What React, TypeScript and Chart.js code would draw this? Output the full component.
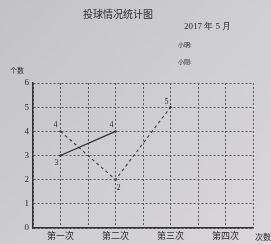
import React, { useEffect, useRef } from "react";
import { Chart, registerables } from "chart.js";

Chart.register(...registerables);

const title = "投球情况统计图";
const dateText = "2017 年 5 月";
const nameLabels = ["小明:", "小刚:"];
const yAxisTitle = "个数";
const xAxisTitle = "次数";
const categories = ["第一次", "第二次", "第三次", "第四次"];
const seriesSolid: (number | null)[] = [3, 4, null, null];
const seriesDashed: (number | null)[] = [4, 2, 5, null];
const yTicks = [0, 1, 2, 3, 4, 5, 6];

const toPoints = (vals: (number | null)[]) =>
  vals
    .map((v, i) => (v === null ? null : { x: i * 2 + 1, y: v }))
    .filter((p) => p !== null) as { x: number; y: number }[];

const CJK = '"Noto Sans CJK SC", "Noto Sans", sans-serif';
const SERIF = '"Liberation Serif", "DejaVu Serif", serif';

const labelOffsets: Record<number, [number, number][]> = {
  0: [
    [-4, 7],
    [-4, -6],
  ],
  1: [
    [-5, -6],
    [3, 8],
    [-4, -5],
  ],
};

const paperPlugin = {
  id: "paper",
  beforeDraw(chart: any) {
    const { ctx, width, height } = chart;
    ctx.save();
    const g = ctx.createLinearGradient(0, 0, width, height);
    g.addColorStop(0, "#c3c3c6");
    g.addColorStop(1, "#d9d7d9");
    ctx.fillStyle = g;
    ctx.fillRect(0, 0, width, height);
    ctx.restore();
  },
  afterDraw(chart: any) {
    const { ctx } = chart;
    ctx.save();
    ctx.fillStyle = "#2a2a2a";
    ctx.textBaseline = "middle";
    ctx.textAlign = "center";
    ctx.font = `10px ${CJK}`;
    ctx.fillText(title, 118, 14);
    ctx.textAlign = "left";
    ctx.font = `9px ${SERIF}`;
    ctx.fillText(dateText, 184, 27);
    ctx.font = `6px ${CJK}`;
    ctx.fillText(nameLabels[0], 178, 45);
    ctx.fillText(nameLabels[1], 178, 62);
    ctx.font = `7px ${CJK}`;
    ctx.fillText(yAxisTitle, 10, 70);
    ctx.font = `8px ${CJK}`;
    ctx.fillText(xAxisTitle, 255, 237);

    // point value labels
    ctx.font = `8px ${SERIF}`;
    ctx.textAlign = "center";
    chart.data.datasets.forEach((ds: any, di: number) => {
      const meta = chart.getDatasetMeta(di);
      meta.data.forEach((el: any, i: number) => {
        const off = labelOffsets[di][i] || [0, -6];
        ctx.fillText(String(ds.data[i].y), el.x + off[0], el.y + off[1]);
      });
    });
    ctx.restore();
  },
};

export default function App() {
  const ref = useRef<HTMLCanvasElement>(null);
  useEffect(() => {
    document.body.style.margin = "0";
    const chart = new Chart(ref.current!, {
      type: "line",
      data: {
        datasets: [
          {
            label: "小明",
            data: toPoints(seriesSolid),
            borderColor: "#2e2e30",
            borderWidth: 1.3,
            pointRadius: 1.2,
            pointBackgroundColor: "#2e2e30",
            pointBorderWidth: 0,
          },
          {
            label: "小刚",
            data: toPoints(seriesDashed),
            borderColor: "#3a3a3e",
            borderWidth: 1.1,
            borderDash: [3, 3],
            pointRadius: 1.2,
            pointBackgroundColor: "#3a3a3e",
            pointBorderWidth: 0,
          },
        ],
      },
      options: {
        animation: false,
        responsive: false,
        maintainAspectRatio: false,
        layout: { padding: { top: 83, right: 18, left: 0, bottom: 0 } },
        plugins: {
          legend: { display: false },
          tooltip: { enabled: false },
          title: { display: false },
        },
        scales: {
          x: {
            type: "linear",
            min: 0,
            max: categories.length * 2,
            afterFit: (s: any) => {
              s.height = 16;
            },
            ticks: {
              stepSize: 1,
              autoSkip: false,
              maxRotation: 0,
              padding: 2,
              color: "#2a2a2a",
              font: { family: CJK, size: 9 },
              callback: (v: any) => {
                const n = Number(v);
                if (n % 2 === 1) return categories[(n - 1) / 2] ?? "";
                return "";
              },
            },
            grid: { color: "#56565a", lineWidth: 1, drawTicks: false },
            border: { display: true, color: "#303032", width: 1.5, dash: [2, 2] },
          },
          y: {
            min: 0,
            max: yTicks[yTicks.length - 1],
            afterFit: (s: any) => {
              s.width = 33;
            },
            afterBuildTicks: (s: any) => {
              s.ticks = yTicks.map((v) => ({ value: v }));
            },
            ticks: {
              padding: 4,
              color: "#2a2a2a",
              font: { family: SERIF, size: 9 },
            },
            grid: { color: "#56565a", lineWidth: 1, drawTicks: false },
            border: { display: true, color: "#303032", width: 1.5, dash: [2, 2] },
          },
        },
      },
      plugins: [paperPlugin],
    });
    return () => chart.destroy();
  }, []);
  return (
    <div style={{ position: "absolute", left: 0, top: 0, width: 271, height: 244 }}>
      <canvas ref={ref} width={271} height={244} style={{ width: 271, height: 244 }} />
    </div>
  );
}
